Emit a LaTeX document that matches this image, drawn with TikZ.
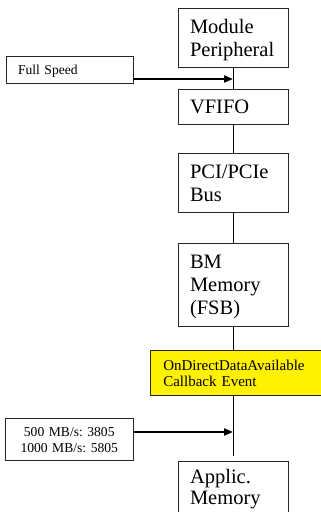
\documentclass[tikz,border=0pt]{standalone}
\usepackage{fontspec}
\setmainfont{Liberation Serif}
\usetikzlibrary{arrows.meta,calc}
\frenchspacing
\begin{document}
\begin{tikzpicture}[x=1pt,y=-1pt,
  frame/.style={draw=black!85, line width=0.8pt, anchor=north west, align=left, inner ysep=0pt, outer sep=0pt},
  bigbox/.style={frame, inner xsep=12pt, text width=86pt, font=\fontsize{20.5}{23.3}\selectfont},
  smallbox/.style={frame, font=\fontsize{13.6}{15.7}\selectfont},
  link/.style={line width=0.8pt},
  feed/.style={line width=2pt, -{Triangle[length=9pt,width=7pt]}}
]
\useasboundingbox (0,0) rectangle (321,512);
\clip (0,0) rectangle (321,512);
\node[bigbox, text height=25.3pt, text depth=33.7pt] (mp) at (178,8) {Module\\Peripheral};
\node[bigbox, text height=24.3pt, text depth=10.7pt] (vf) at (178,89) {VFIFO};
\node[bigbox, text height=25.3pt, text depth=33.7pt] (pci) at (178,153) {PCI/PCIe\\Bus};
\node[bigbox, text height=25.3pt, text depth=57.7pt] (bm) at (178,243) {BM\\Memory\\(FSB)};
\node[frame, fill=yellow, inner xsep=13.3pt, text width=170pt, text height=20pt, text depth=25pt, font=\fontsize{15}{16.7}\selectfont] (cb) at (150,350) {OnDirectDataAvailable\\Callback Event};
\node[bigbox, text height=22.3pt, text depth=50pt, font=\fontsize{20.5}{21.5}\selectfont] (am) at (178,461) {Applic.\\Memory};
\node[smallbox, inner xsep=12pt, text width=103pt, text height=18pt, text depth=9pt] (fs) at (6,56) {Full Speed};
\node[smallbox, align=center, inner xsep=0pt, text width=127.5pt, text height=18.4pt, text depth=23.3pt] (rate) at (5.5,418.3) {500 MB/s: 3805\\1000 MB/s: 5805};
\draw[link] (mp.south) -- (vf.north);
\draw[link] (vf.south) -- (pci.north);
\draw[link] (pci.south) -- (bm.north);
\draw[link] (bm.south) -- (bm.south |- cb.north);
\coordinate (tail) at (bm.south |- 0,456);
\draw[link] (bm.south |- cb.south) -- (tail);
\coordinate (j1) at (mp.south |- 0,79);
\draw[feed] (fs.east |- j1) -- (j1);
\coordinate (j2) at (mp.south |- 0,432);
\draw[feed] (rate.east |- j2) -- (j2);
\end{tikzpicture}
\end{document}
